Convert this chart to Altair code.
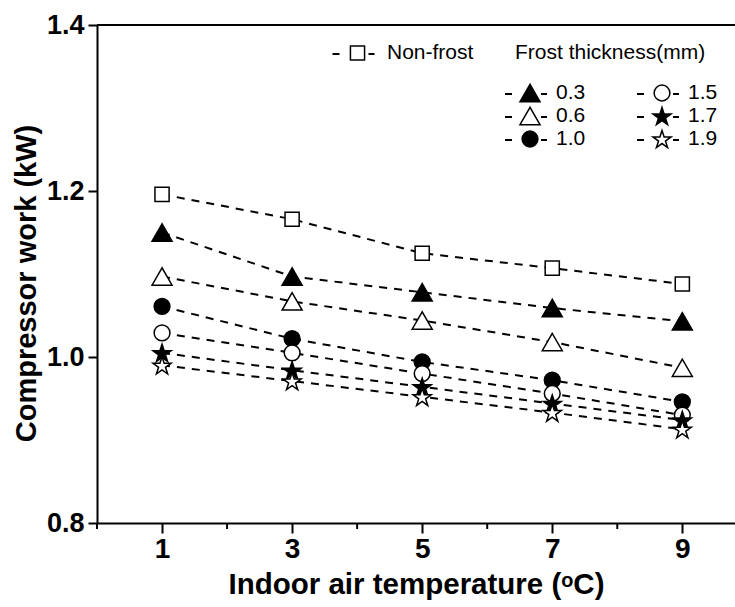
import altair as alt
import pandas as pd

# Indoor air temperature (deg C) and compressor work (kW) per frost condition
temps = [1, 3, 5, 7, 9]
series_names = ["Non-frost", "0.3", "0.6", "1.0", "1.5", "1.7", "1.9"]
non_frost = [1.196, 1.166, 1.125, 1.107, 1.088]
frost_03 = [1.150, 1.097, 1.078, 1.059, 1.043]
frost_06 = [1.097, 1.067, 1.044, 1.018, 0.987]
frost_10 = [1.061, 1.022, 0.994, 0.972, 0.946]
frost_15 = [1.029, 1.005, 0.980, 0.956, 0.930]
frost_17 = [1.005, 0.984, 0.964, 0.944, 0.924]
frost_19 = [0.990, 0.971, 0.952, 0.933, 0.913]
series_values = [non_frost, frost_03, frost_06, frost_10, frost_15, frost_17, frost_19]

x_ticks = [1, 3, 5, 7, 9]
x_minor_ticks = [0, 2, 4, 6, 8]
y_ticks = [0.8, 1.0, 1.2, 1.4]

# five-pointed star in the [-1, 1] box, centred vertically
STAR = ("M0,-0.905L0.2245,-0.214L0.951,-0.214L0.363,0.213L0.588,0.905"
        "L0,0.477L-0.588,0.905L-0.363,0.213L-0.951,-0.214L-0.2245,-0.214Z")

styles = {
    "Non-frost": dict(shape="square", fill="white", size=200),
    "0.3": dict(shape="triangle-up", fill="black", size=400),
    "0.6": dict(shape="triangle-up", fill="white", size=400),
    "1.0": dict(shape="circle", fill="black", size=250),
    "1.5": dict(shape="circle", fill="white", size=250),
    "1.7": dict(shape=STAR, fill="black", size=360),
    "1.9": dict(shape=STAR, fill="white", size=360),
}

W, H = 638, 498
FONT = "Liberation Sans"

rows = []
for name, vals in zip(series_names, series_values):
    for t, v in zip(temps, vals):
        rows.append({"series": name, "temp": t, "work": v})
df = pd.DataFrame(rows)

x_scale = alt.Scale(domain=[0, 9.81], nice=False, zero=False)
y_scale = alt.Scale(domain=[0.8, 1.4], nice=False, zero=False)

x_axis = alt.Axis(values=x_ticks, title="Indoor air temperature (ᵒC)",
                  labelFont=FONT, labelFontSize=28, labelFontWeight="bold",
                  titleFont=FONT, titleFontSize=29.5,
                  titleFontWeight="bold", tickSize=10, labelPadding=2, titlePadding=7,
                  labelFlush=False)
y_axis = alt.Axis(values=y_ticks, format=".1f", title="Compressor work (kW)",
                  labelFont=FONT, labelFontSize=27, labelFontWeight="bold",
                  titleFont=FONT, titleFontSize=29, titleFontWeight="bold",
                  tickSize=9, labelPadding=4, titlePadding=5, titleY=258)

x_enc = alt.X("temp:Q", scale=x_scale, axis=x_axis)
y_enc = alt.Y("work:Q", scale=y_scale, axis=y_axis)

lines = alt.Chart(df).mark_line(
    color="black", strokeWidth=2, strokeDash=[8, 7]
).encode(x=x_enc, y=y_enc, detail="series:N")

top_border = alt.Chart(pd.DataFrame({"k": [0]})).mark_rule(
    color="black", strokeWidth=2
).encode(x=alt.value(0), x2=alt.value(W), y=alt.value(0))

# short unlabeled ticks between the labeled ones
minor = alt.Chart(pd.DataFrame({"temp": x_minor_ticks})).mark_rule(
    color="black", strokeWidth=2
).encode(x=x_enc, y=alt.value(H), y2=alt.value(H + 6))

layers = [lines, top_border, minor]
for name in series_names:
    st = styles[name]
    layers.append(
        alt.Chart(df[df["series"] == name]).mark_point(
            shape=st["shape"], size=st["size"], filled=True, fill=st["fill"],
            stroke="black", strokeWidth=1.5, opacity=1
        ).encode(x=x_enc, y=y_enc)
    )

# legend block: marker with dashed-line stubs and label
legend_slots = {
    "Non-frost": (260.5, 28),
    "0.3": (433, 68), "0.6": (433, 91), "1.0": (433, 114),
    "1.5": (565, 68), "1.7": (565, 91), "1.9": (565, 114),
}
stub_rows, label_rows = [], []
for name in series_names:
    cx, cy = legend_slots[name]
    stub_rows.append({"x1": cx - 25, "x2": cx - 18, "py": cy + 1})
    stub_rows.append({"x1": cx + 11, "x2": cx + 17, "py": cy + 1})
    label_rows.append({"px": cx + 26 if name != "Non-frost" else cx + 29.5, "py": cy, "label": name})
label_rows.append({"px": 418, "py": 28, "label": "Frost thickness(mm)"})

stubs = alt.Chart(pd.DataFrame(stub_rows)).mark_rule(color="black", strokeWidth=2).encode(
    x=alt.X("x1:Q", scale=None, axis=None), x2="x2:Q",
    y=alt.Y("py:Q", scale=None, axis=None))
layers.append(stubs)

for name in series_names:
    st = styles[name]
    cx, cy = legend_slots[name]
    layers.append(
        alt.Chart(pd.DataFrame({"px": [cx], "py": [cy]})).mark_point(
            shape=st["shape"], size=st["size"], filled=True, fill=st["fill"],
            stroke="black", strokeWidth=1.5, opacity=1
        ).encode(x=alt.X("px:Q", scale=None, axis=None), y=alt.Y("py:Q", scale=None, axis=None))
    )

labels = alt.Chart(pd.DataFrame(label_rows)).mark_text(
    align="left", baseline="middle", font=FONT, fontSize=21, color="black"
).encode(x=alt.X("px:Q", scale=None, axis=None), y=alt.Y("py:Q", scale=None, axis=None),
         text="label:N")
layers.append(labels)

chart = alt.layer(*layers).properties(
    width=W, height=H,
    padding={"left": 97, "top": 25, "right": 0, "bottom": 84},
    autosize=alt.AutoSizeParams(type="none"),
).configure_view(stroke=None).configure_axis(
    domainColor="black", domainWidth=2, tickColor="black", tickWidth=2,
    labelColor="black", titleColor="black", grid=False,
)

chart.save("out.html", embed_options={"renderer": "svg", "actions": False})
